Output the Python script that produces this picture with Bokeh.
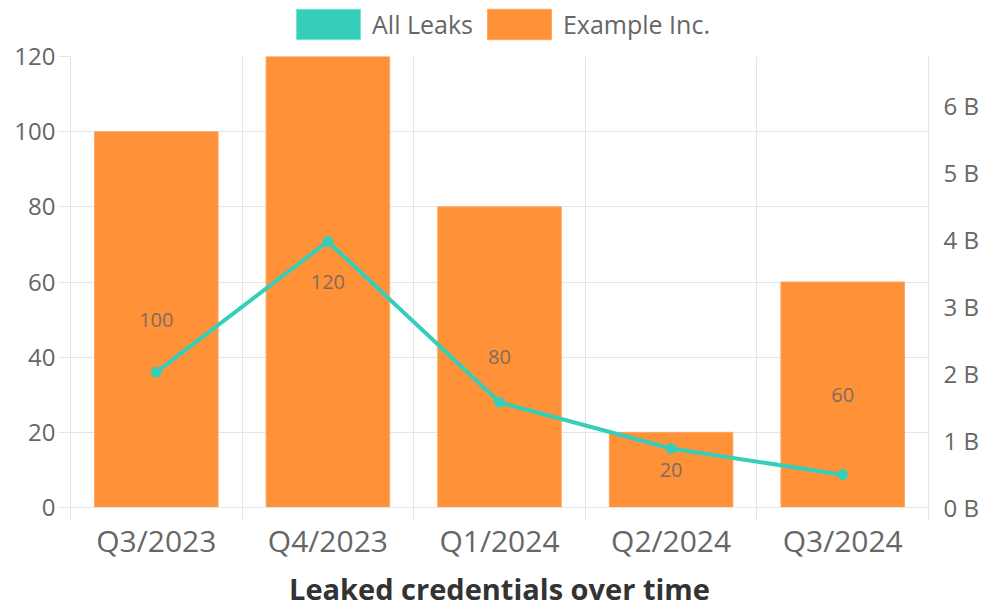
from bokeh.plotting import figure
from bokeh.layouts import column
from bokeh.models import (Range1d, LinearAxis, FixedTicker, CustomJSTickFormatter,
                          Grid, Legend, LegendItem, ColumnDataSource, Title)
from bokeh.core.properties import value
from bokeh.embed import file_html
from bokeh.resources import INLINE

# ---- data ----
quarters = ["Q3/2023", "Q4/2023", "Q1/2024", "Q2/2024", "Q3/2024"]
example_inc = [100, 120, 80, 20, 60]
all_leaks = [2.02e9, 3.97e9, 1.57e9, 0.88e9, 0.49e9]
left_ticks = [0, 20, 40, 60, 80, 100, 120]
right_ticks = [0, 1e9, 2e9, 3e9, 4e9, 5e9, 6e9]
right_max = 6.73e9
series_names = ["All Leaks", "Example Inc."]
title_text = "Leaked credentials over time"

FONT = "Open Sans"
ORANGE = "#FF9138"
ORANGE_EDGE = "#FFA75F"
TEAL = "#35CFB9"
TEAL_EDGE = "#7FE0D2"
GRID = "#E5E5E5"
TXT = "#666666"

W = 985
LEG_H = 44
MAIN_H = 610 - LEG_H

n = len(quarters)
centers = [i + 0.5 for i in range(n)]          # category slot centres
bounds = list(range(n + 1))                     # category slot boundaries

# ---------------- main chart ----------------
p = figure(width=W, height=MAIN_H,
           x_range=Range1d(0, n),
           y_range=Range1d(0, 120),
           x_axis_location=None,
           output_backend="svg", toolbar_location=None,
           min_border_left=70, min_border_right=57,
           min_border_top=12, min_border_bottom=100)
p.outline_line_color = None
p.background_fill_color = "white"
p.border_fill_color = "white"

for g in list(p.grid):
    if g.dimension == 0:
        g.visible = False
p.ygrid.ticker = FixedTicker(ticks=left_ticks)
p.ygrid.grid_line_color = GRID

# left axis
ya = p.yaxis[0]
ya.ticker = FixedTicker(ticks=left_ticks)
ya.axis_line_color = GRID
ya.major_tick_line_color = GRID
ya.major_tick_out = 12
ya.major_tick_in = 0
ya.minor_tick_line_color = None
ya.major_label_text_font = FONT
ya.major_label_text_font_size = "24px"
ya.major_label_text_color = TXT
ya.major_label_standoff = 3

# vertical grid lines and tick marks at category boundaries
p.add_layout(Grid(dimension=0, ticker=FixedTicker(ticks=bounds), grid_line_color=GRID))
bax = LinearAxis(ticker=FixedTicker(ticks=bounds),
                 major_tick_out=12, major_tick_in=0, major_tick_line_color=GRID,
                 minor_tick_line_color=None, axis_line_color=GRID,
                 major_label_text_font_size="0px", major_label_standoff=0)
p.add_layout(bax, "below")

cax = LinearAxis(ticker=FixedTicker(ticks=centers),
                 major_label_overrides={c: q for c, q in zip(centers, quarters)},
                 axis_line_color=None, major_tick_line_color=None, minor_tick_line_color=None,
                 major_label_text_font=FONT, major_label_text_font_size="30px",
                 major_label_text_color=TXT, major_label_standoff=-6)
p.add_layout(cax, "below")

# right axis
p.extra_y_ranges = {"right": Range1d(0, right_max)}
rax = LinearAxis(y_range_name="right", ticker=FixedTicker(ticks=right_ticks),
                 formatter=CustomJSTickFormatter(code="return (tick/1e9).toFixed(0) + ' B';"),
                 axis_line_color=GRID, major_tick_line_color=None, minor_tick_line_color=None,
                 major_label_text_font=FONT, major_label_text_font_size="24px",
                 major_label_text_color=TXT, major_label_standoff=9)
p.add_layout(rax, "right")

# bars
src = ColumnDataSource(dict(x=centers, q=quarters, v=example_inc,
                            mid=[v / 2 for v in example_inc],
                            lab=[str(v) for v in example_inc],
                            leaks=all_leaks))
p.vbar(x="x", top="v", width=0.72, source=src, fill_color=ORANGE,
       line_color=ORANGE_EDGE, line_width=1)
p.text(x="x", y="mid", text="lab", source=src, text_font=value(FONT),
       text_font_size="20px", text_align="center", text_baseline="middle",
       text_color=TXT, text_alpha=0.85)

# line
p.line(x="x", y="leaks", source=src, y_range_name="right", line_color=TEAL, line_width=4)
p.scatter(x="x", y="leaks", source=src, y_range_name="right", size=10,
          fill_color=TEAL, line_color=TEAL)

p.add_layout(Title(text=title_text, align="center", text_font=FONT,
                   text_font_size="29px", text_font_style="bold",
                   text_color="#333333", standoff=6), "below")

# ---------------- legend strip ----------------
lg = figure(width=W, height=LEG_H, x_range=Range1d(0, 1), y_range=Range1d(0, 1),
            x_axis_location=None, y_axis_location=None,
            output_backend="svg", toolbar_location=None,
            min_border=0, min_border_left=0, min_border_right=0,
            min_border_top=0, min_border_bottom=0)
lg.outline_line_color = None
lg.xgrid.visible = False
lg.ygrid.visible = False
# swatch proxies (NaN heights: they draw nothing, only feed the legend boxes)
sw_teal = lg.vbar(x=[0.5], top=[float("nan")], width=0.5, fill_color=TEAL, line_color=TEAL_EDGE)
sw_orange = lg.vbar(x=[0.5], top=[float("nan")], width=0.5, fill_color=ORANGE, line_color=ORANGE_EDGE)

legend = Legend(items=[LegendItem(label=series_names[0], renderers=[sw_teal]),
                       LegendItem(label=series_names[1], renderers=[sw_orange])],
                orientation="horizontal", location="top_center",
                glyph_width=80, glyph_height=38, label_text_font=FONT,
                label_text_font_size="25px", label_text_color=TXT,
                label_standoff=4, spacing=6, padding=0, margin=5,
                border_line_color=None, background_fill_alpha=0)
lg.add_layout(legend, "center")

layout = column(lg, p, spacing=0)
open("out.html", "w").write(file_html(layout, INLINE))
